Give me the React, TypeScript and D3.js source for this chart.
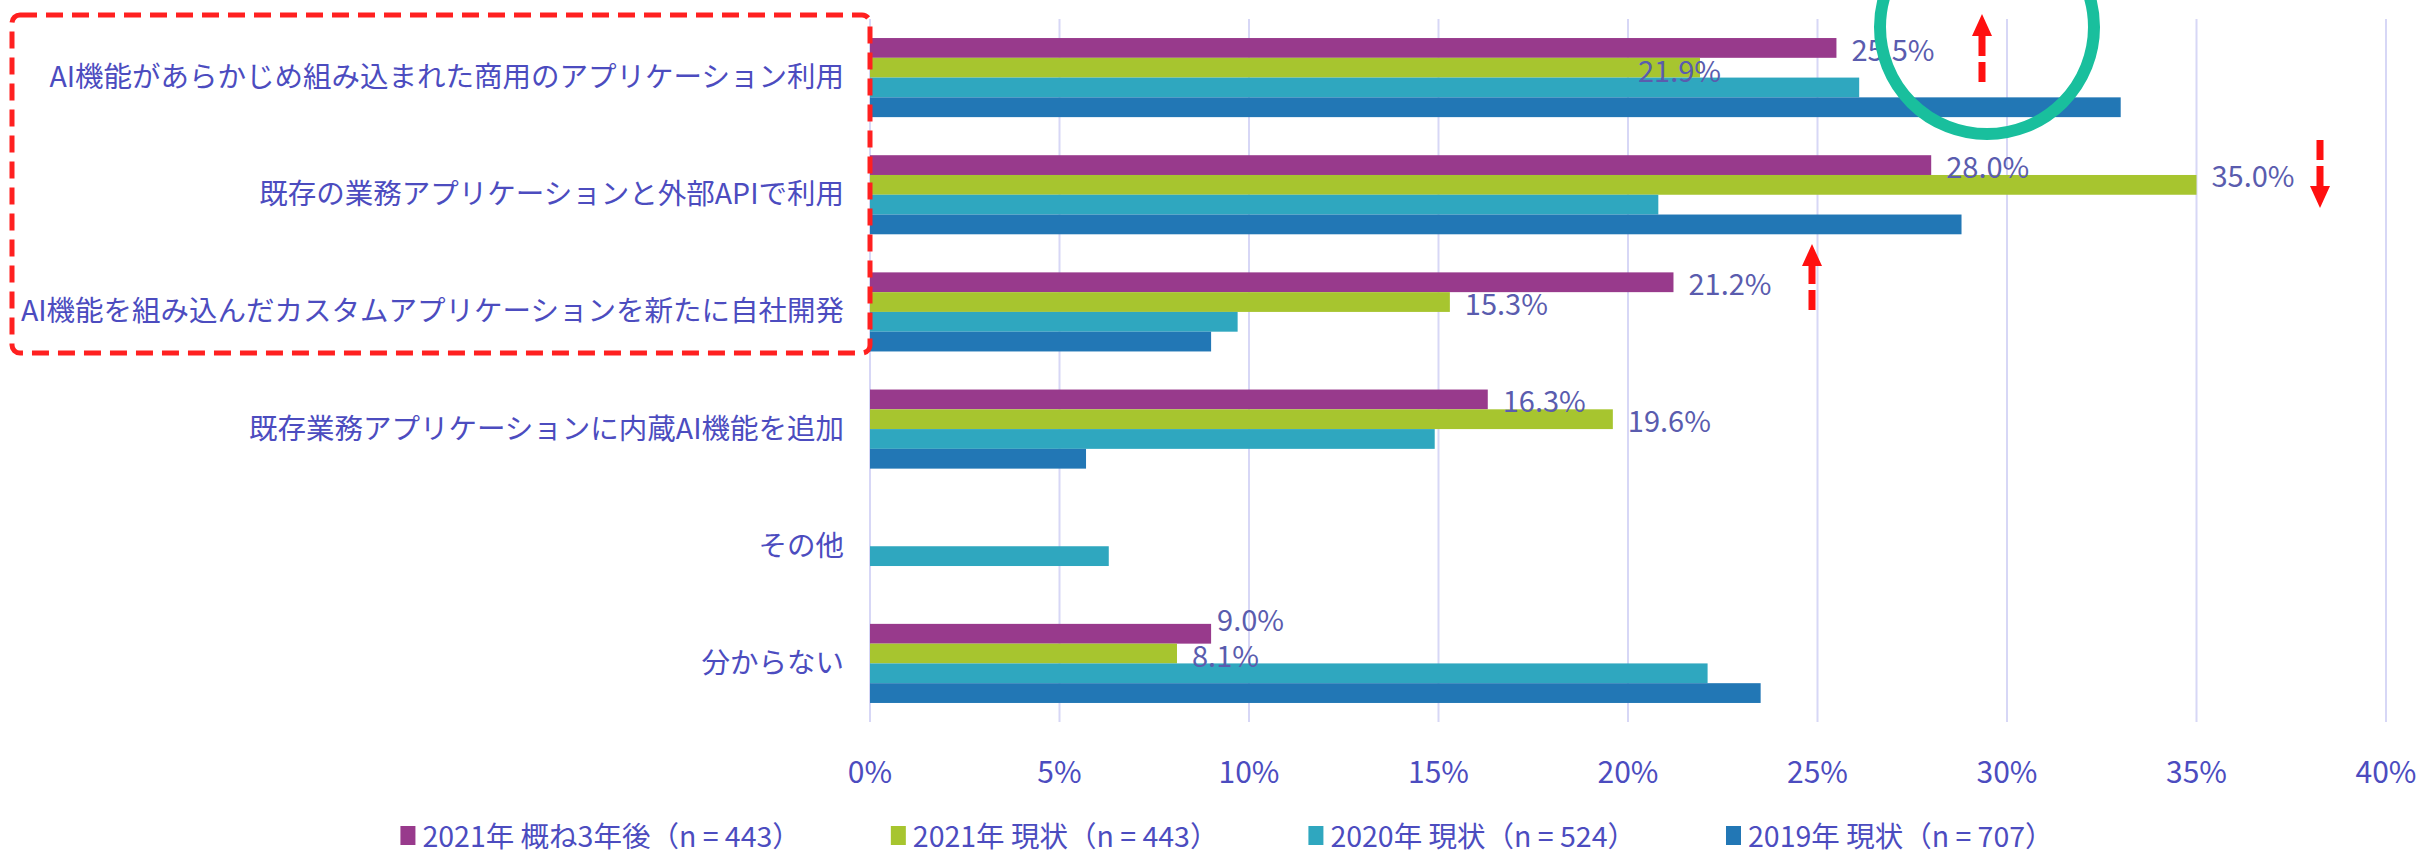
import { useEffect, useRef } from 'react';
import * as d3 from 'd3';

const categories = [
    'AI機能があらかじめ組み込まれた商用のアプリケーション利用',
    '既存の業務アプリケーションと外部APIで利用',
    'AI機能を組み込んだカスタムアプリケーションを新たに自社開発',
    '既存業務アプリケーションに内蔵AI機能を追加',
    'その他',
    '分からない',
];

const seriesNames = [
    '2021年 概ね3年後（n = 443）',
    '2021年 現状（n = 443）',
    '2020年 現状（n = 524）',
    '2019年 現状（n = 707）',
];

const future2021 = [25.5, 28.0, 21.2, 16.3, 0, 9.0];
const current2021 = [21.9, 35.0, 15.3, 19.6, 0, 8.1];
const current2020 = [26.1, 20.8, 9.7, 14.9, 6.3, 22.1];
const current2019 = [33.0, 28.8, 9.0, 5.7, 0, 23.5];

const seriesValues = [future2021, current2021, current2020, current2019];
const seriesColors = ['#983a8c', '#a7c52f', '#2fa7bf', '#2277b5'];
const labelledSeries = [0, 1];

const xTicks = [0, 5, 10, 15, 20, 25, 30, 35, 40];

// hand placed value labels in the original
const labelNudge = { '0-5': [-9, -16], '1-0': [-77, 1], '1-1': [0, -11] };

const W = 2428;
const H = 853;
const textColor = '#4c4cbf';
const font = '"Noto Sans CJK JP", "Noto Sans", sans-serif';

export default function App() {
    const svgRef = useRef(null);

    useEffect(() => {
        const svg = d3.select(svgRef.current);
        svg.selectAll('*').remove();

        const x = d3.scaleLinear().domain([0, 40]).range([870, 2386]);
        const y = d3.scaleBand().domain(categories).range([19, 722])
            .paddingInner(0.325).paddingOuter(0.1625);
        const ySub = d3.scaleBand().domain(seriesNames).range([0, y.bandwidth()]);

        // gridlines
        svg.append('g').selectAll('line').data(xTicks).join('line')
            .attr('x1', (d) => x(d)).attr('x2', (d) => x(d))
            .attr('y1', 19).attr('y2', 722)
            .attr('stroke', '#d7d7f6').attr('stroke-width', 2);

        // tick labels
        svg.append('g').selectAll('text').data(xTicks).join('text')
            .attr('x', (d) => x(d)).attr('y', 770)
            .attr('text-anchor', 'middle').attr('dominant-baseline', 'central')
            .attr('font-family', font).attr('font-size', 30).attr('fill', textColor)
            .text((d) => `${d}%`);

        // category labels
        svg.append('g').selectAll('text').data(categories).join('text')
            .attr('x', 844).attr('y', (d) => y(d) + y.bandwidth() / 2 - 3)
            .attr('text-anchor', 'end').attr('dominant-baseline', 'central')
            .attr('font-family', font).attr('font-size', 28.5).attr('fill', textColor)
            .text((d) => d);

        // bars
        seriesValues.forEach((vals, s) => {
            svg.append('g').selectAll('rect').data(vals).join('rect')
                .attr('x', x(0))
                .attr('y', (d, i) => y(categories[i]) + ySub(seriesNames[s]))
                .attr('width', (d) => x(d) - x(0))
                .attr('height', ySub.bandwidth())
                .attr('fill', seriesColors[s]);
        });

        // value labels
        labelledSeries.forEach((s) => {
            seriesValues[s].forEach((v, i) => {
                if (!v) return;
                const [dx, dy] = labelNudge[`${s}-${i}`] || [0, 0];
                svg.append('text')
                    .attr('x', x(v) + 15 + dx)
                    .attr('y', y(categories[i]) + ySub(seriesNames[s]) + ySub.bandwidth() / 2 + dy)
                    .attr('dominant-baseline', 'central')
                    .attr('font-family', font).attr('font-size', 29)
                    .attr('fill', '#5a5cae')
                    .text(`${v.toFixed(1)}%`);
            });
        });

        // red dashed highlight box
        svg.append('rect')
            .attr('x', 12).attr('y', 15).attr('width', 858).attr('height', 338)
            .attr('rx', 8)
            .attr('fill', 'none').attr('stroke', '#ff2020').attr('stroke-width', 5)
            .attr('stroke-dasharray', '17 9');

        // teal ring
        svg.append('circle')
            .attr('cx', 1987).attr('cy', 27).attr('r', 107)
            .attr('fill', 'none').attr('stroke', '#19bf9d').attr('stroke-width', 12);

        // red dashed arrows
        const arrow = (ax, tail, tip) => {
            const dir = tip < tail ? -1 : 1;
            const headLen = 22;
            const g = svg.append('g');
            g.append('line')
                .attr('x1', ax).attr('x2', ax)
                .attr('y1', tail).attr('y2', tip - dir * headLen)
                .attr('stroke', '#ff1010').attr('stroke-width', 7)
                .attr('stroke-dasharray', '20 6');
            g.append('path')
                .attr('d', `M${ax},${tip} L${ax - 10},${tip - dir * headLen} L${ax + 10},${tip - dir * headLen} Z`)
                .attr('fill', '#ff1010');
        };
        arrow(1982, 82, 14);
        arrow(2320, 140, 208);
        arrow(1812, 310, 244);

        // legend
        const legend = svg.append('g');
        const gap = 90;
        let cursor = 0;
        seriesNames.forEach((name, s) => {
            const item = legend.append('g').attr('transform', `translate(${cursor},0)`);
            item.append('rect')
                .attr('x', 0).attr('y', 826).attr('width', 15).attr('height', 19)
                .attr('fill', seriesColors[s]);
            const t = item.append('text')
                .attr('x', 22).attr('y', 834)
                .attr('dominant-baseline', 'central')
                .attr('font-family', font).attr('font-size', 28.5).attr('fill', textColor)
                .text(name);
            cursor += 22 + t.node().getComputedTextLength() + gap;
        });
        const total = cursor - gap;
        legend.attr('transform', `translate(${1227 - total / 2},0)`);
    }, []);

    return (
        <svg
            ref={svgRef}
            width={W}
            height={H}
            style={{ position: 'absolute', left: 0, top: 0, background: '#fff' }}
        />
    );
}
